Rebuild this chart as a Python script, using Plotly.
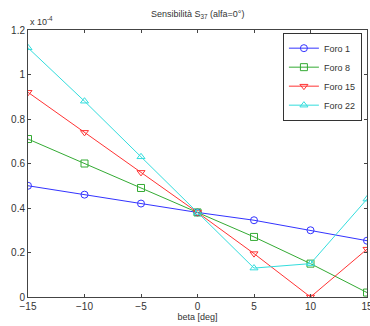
import plotly.graph_objects as go

beta = [-15, -10, -5, 0, 5, 10, 15]
foro1 = [0.50, 0.46, 0.42, 0.38, 0.345, 0.30, 0.253]
foro8 = [0.71, 0.60, 0.49, 0.38, 0.27, 0.15, 0.02]
foro15 = [0.92, 0.74, 0.56, 0.38, 0.195, 0.0, 0.215]
foro22 = [1.12, 0.88, 0.63, 0.38, 0.13, 0.15, 0.44]

series = [
    ("Foro 1", foro1, "#3333ff", "circle-open"),
    ("Foro 8", foro8, "#33aa33", "square-open"),
    ("Foro 15", foro15, "#ff3333", "triangle-down-open"),
    ("Foro 22", foro22, "#33dddd", "triangle-up-open"),
]

fig = go.Figure()
for name, vals, col, sym in series:
    fig.add_trace(go.Scatter(x=beta, y=vals, name=name, mode="lines+markers",
                             line=dict(color=col, width=1),
                             marker=dict(symbol=sym, size=7, color=col, line=dict(width=1, color=col))))

axcommon = dict(showgrid=False, zeroline=False, ticks="inside", ticklen=3, mirror="allticks",
                showline=True, linecolor="#444", linewidth=1, tickcolor="#444", automargin=False,
                tickfont=dict(size=10, color="#333", family="Liberation Sans"))

fig.update_layout(
    width=370, height=326,
    margin=dict(l=28, r=3, t=30, b=29),
    paper_bgcolor="white", plot_bgcolor="white",
    font=dict(family="Liberation Sans", size=10, color="#333"),
    xaxis=dict(range=[-15, 15], tickvals=[-15, -10, -5, 0, 5, 10, 15], ticklabeloverflow="allow",
               title=dict(text="beta [deg]", font=dict(size=9), standoff=2), **axcommon),
    yaxis=dict(range=[0, 1.2], tickvals=[0, 0.2, 0.4, 0.6, 0.8, 1, 1.2],
               ticktext=["0", "0.2", "0.4", "0.6", "0.8", "1", "1.2"], **axcommon),
    legend=dict(x=0.985, y=0.99, xanchor="right", yanchor="top", bordercolor="#333", borderwidth=1,
                bgcolor="white", font=dict(size=9), tracegroupgap=0, itemwidth=30),
    showlegend=True,
    annotations=[
        dict(text="Sensibilità S<sub>37</sub> (alfa=0°)", x=0.5, y=1, xref="paper", yref="paper",
             xanchor="center", yanchor="bottom", yshift=8, showarrow=False, font=dict(size=9)),
        dict(text="x 10<sup>-4</sup>", x=0, y=1, xref="paper", yref="paper", xanchor="left",
             yanchor="bottom", yshift=1, showarrow=False, font=dict(size=9)),
    ],
)

fig.write_html("out.html")
